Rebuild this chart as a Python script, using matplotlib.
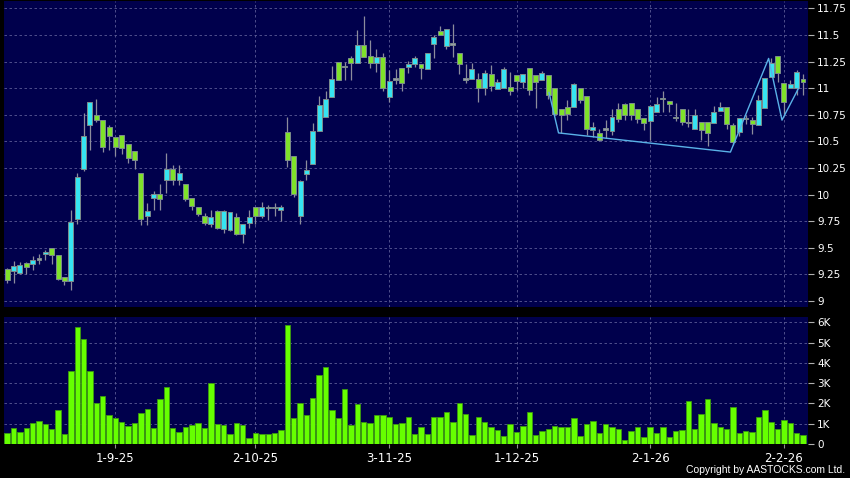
import matplotlib
matplotlib.use("Agg")
import matplotlib.pyplot as plt
import numpy as np

# daily OHLC (bar index 0..125)
opens = [9.30, 9.28, 9.26, 9.36, 9.35, 9.39, 9.44, 9.50, 9.43, 9.23,
         9.19, 9.77, 10.24, 10.65, 10.75, 10.70, 10.64, 10.54, 10.56, 10.48,
         10.41, 10.20, 9.80, 9.97, 10.01, 10.14, 10.24, 10.14, 10.10, 9.97,
         9.88, 9.80, 9.72, 9.85, 9.68, 9.67, 9.79, 9.63, 9.73, 9.88,
         9.80, 9.87, 9.87, 9.86, 10.59, 10.36, 9.80, 10.19, 10.29, 10.60,
         10.73, 10.92, 11.25, 11.20, 11.28, 11.24, 11.41, 11.30, 11.24, 11.29,
         10.92, 11.08, 11.19, 11.20, 11.23, 11.23, 11.18, 11.42, 11.54, 11.40,
         11.41, 11.33, 11.08, 11.09, 11.09, 11.00, 11.13, 10.99, 11.00, 11.01,
         11.12, 11.06, 11.19, 11.12, 11.08, 11.12, 11.00, 10.80, 10.82, 10.82,
         11.00, 10.93, 10.61, 10.58, 10.61, 10.60, 10.80, 10.85, 10.86, 10.80,
         10.72, 10.69, 10.78, 10.90, 10.88, 10.72, 10.80, 10.67, 10.62, 10.68,
         10.68, 10.67, 10.79, 10.82, 10.65, 10.59, 10.71, 10.70, 10.65, 10.81,
         11.11, 11.30, 11.05, 11.00, 11.00, 11.09]
highs = [9.31, 9.38, 9.37, 9.37, 9.42, 9.44, 9.48, 9.50, 9.43, 9.23,
         9.86, 10.20, 10.77, 10.87, 10.90, 10.70, 10.65, 10.54, 10.56, 10.48,
         10.41, 10.20, 9.92, 10.03, 10.10, 10.39, 10.28, 10.28, 10.10, 9.97,
         9.88, 9.83, 9.86, 9.86, 9.86, 9.84, 9.83, 9.72, 9.86, 9.88,
         9.93, 9.90, 9.92, 9.90, 10.73, 10.36, 10.14, 10.33, 10.67, 10.93,
         10.97, 11.21, 11.25, 11.25, 11.30, 11.55, 11.68, 11.45, 11.37, 11.33,
         11.17, 11.18, 11.19, 11.26, 11.30, 11.23, 11.33, 11.50, 11.58, 11.56,
         11.60, 11.33, 11.23, 11.24, 11.14, 11.17, 11.22, 11.09, 11.20, 11.15,
         11.12, 11.13, 11.19, 11.12, 11.16, 11.12, 11.00, 10.80, 10.89, 11.05,
         11.00, 10.93, 10.68, 10.62, 10.70, 10.80, 10.86, 10.86, 10.86, 10.80,
         10.72, 10.84, 10.92, 10.97, 10.88, 10.86, 10.80, 10.80, 10.80, 10.68,
         10.68, 10.83, 10.87, 10.82, 10.67, 10.72, 10.75, 10.73, 10.94, 11.10,
         11.28, 11.30, 11.05, 11.08, 11.17, 11.13]
lows = [9.17, 9.17, 9.25, 9.25, 9.29, 9.35, 9.39, 9.35, 9.20, 9.15,
        9.10, 9.72, 10.22, 10.42, 10.68, 10.40, 10.42, 10.36, 10.38, 10.30,
        10.24, 9.71, 9.71, 9.86, 9.86, 10.02, 10.09, 10.09, 9.94, 9.86,
        9.80, 9.71, 9.70, 9.68, 9.64, 9.66, 9.62, 9.55, 9.69, 9.72,
        9.78, 9.76, 9.80, 9.75, 10.26, 9.98, 9.72, 10.14, 10.29, 10.60,
        10.73, 10.92, 11.08, 11.08, 11.08, 11.24, 11.29, 11.19, 11.15, 10.97,
        10.87, 11.04, 10.97, 11.14, 11.20, 11.09, 11.18, 11.28, 11.50, 11.37,
        11.29, 11.13, 11.05, 11.09, 10.87, 10.94, 10.97, 10.99, 11.00, 10.94,
        10.98, 11.00, 10.94, 10.81, 11.08, 10.90, 10.75, 10.58, 10.70, 10.82,
        10.86, 10.56, 10.54, 10.50, 10.53, 10.56, 10.68, 10.70, 10.70, 10.67,
        10.61, 10.51, 10.78, 10.78, 10.78, 10.69, 10.65, 10.64, 10.62, 10.51,
        10.46, 10.67, 10.79, 10.62, 10.47, 10.55, 10.66, 10.57, 10.65, 10.81,
        11.11, 11.06, 10.76, 11.00, 10.94, 10.94]
closes = [9.20, 9.33, 9.34, 9.32, 9.39, 9.39, 9.46, 9.43, 9.21, 9.19,
          9.74, 10.17, 10.55, 10.87, 10.70, 10.45, 10.55, 10.45, 10.44, 10.34,
          10.33, 9.77, 9.85, 10.01, 9.96, 10.24, 10.14, 10.20, 9.96, 9.89,
          9.82, 9.73, 9.79, 9.69, 9.85, 9.84, 9.63, 9.72, 9.79, 9.80,
          9.88, 9.87, 9.87, 9.88, 10.33, 10.01, 10.13, 10.23, 10.60, 10.84,
          10.90, 11.09, 11.08, 11.20, 11.24, 11.41, 11.29, 11.24, 11.29, 11.00,
          11.07, 11.08, 11.05, 11.23, 11.28, 11.19, 11.33, 11.48, 11.50, 11.56,
          11.41, 11.23, 11.08, 11.18, 11.00, 11.14, 11.02, 11.06, 11.18, 10.97,
          11.07, 11.13, 10.98, 11.06, 11.14, 10.94, 10.76, 10.75, 10.76, 11.04,
          10.89, 10.62, 10.64, 10.51, 10.61, 10.73, 10.71, 10.75, 10.75, 10.71,
          10.67, 10.83, 10.85, 10.90, 10.85, 10.72, 10.68, 10.67, 10.75, 10.61,
          10.58, 10.78, 10.82, 10.66, 10.49, 10.72, 10.71, 10.66, 10.89, 11.10,
          11.24, 11.14, 10.87, 11.04, 11.15, 11.06]

# volume in thousands
volumes = [0.56, 0.78, 0.60, 0.78, 1.06, 1.14, 0.99, 0.73, 1.70, 0.51,
           3.59, 5.75, 5.19, 3.59, 2.02, 2.38, 1.44, 1.29, 1.09, 0.88,
           1.06, 1.52, 1.74, 0.79, 2.23, 2.83, 0.79, 0.60, 0.86, 0.96,
           1.02, 0.78, 3.02, 1.01, 0.96, 0.50, 1.02, 0.93, 0.31, 0.56,
           0.50, 0.51, 0.55, 0.71, 5.87, 1.26, 2.03, 1.45, 2.25, 3.39,
           3.82, 1.70, 1.26, 2.71, 0.96, 1.95, 1.11, 1.04, 1.42, 1.45,
           1.34, 0.98, 1.02, 1.31, 0.51, 0.83, 0.50, 1.31, 1.34, 1.60,
           1.07, 2.03, 1.50, 0.46, 1.32, 1.11, 0.86, 0.71, 0.41, 1.01,
           0.61, 0.88, 1.59, 0.43, 0.66, 0.76, 0.91, 0.83, 0.86, 1.29,
           0.41, 1.01, 1.12, 0.56, 1.01, 0.86, 0.74, 0.21, 0.66, 0.83,
           0.35, 0.86, 0.53, 0.86, 0.36, 0.64, 0.71, 2.12, 0.73, 1.47,
           2.23, 1.02, 0.86, 0.76, 1.85, 0.55, 0.64, 0.60, 1.34, 1.69,
           1.11, 0.76, 1.19, 1.02, 0.56, 0.45]

date_pos = [17, 39, 60, 80, 101, 122]
date_labels = ["1-9-25", "2-10-25", "3-11-25", "1-12-25", "2-1-26", "2-2-26"]

price_ticks = [9, 9.25, 9.5, 9.75, 10, 10.25, 10.5, 10.75, 11, 11.25, 11.5, 11.75]
price_labels = ["9", "9.25", "9.5", "9.75", "10", "10.25", "10.5", "10.75",
                "11", "11.25", "11.5", "11.75"]
vol_ticks = [0, 1, 2, 3, 4, 5, 6]
vol_labels = ["0", "1K", "2K", "3K", "4K", "5K", "6K"]

# hand drawn pattern line (bar index, price)
line_x = [85.1, 86.6, 113.6, 119.6, 121.7, 124.3]
line_y = [10.96, 10.58, 10.40, 11.28, 10.70, 11.00]

BG = "#00004c"
UP = "#36e4f2"
DOWN = "#7fe22a"
DOJI = "#9a9aa8"
GRID = "#5c5c96"

fig = plt.figure(figsize=(8.5, 4.78), dpi=100, facecolor="black")
ax = fig.add_axes([0.0047, 0.3584, 0.946, 0.6396])
axv = fig.add_axes([0.0047, 0.0711, 0.946, 0.2663])

x = np.arange(len(closes))
o = np.array(opens)
c = np.array(closes)

for a in (ax, axv):
    a.set_facecolor(BG)
    for s in a.spines.values():
        s.set_visible(False)
    a.set_xlim(-0.5, 125.8)
    a.yaxis.tick_right()
    a.tick_params(axis="y", colors="#b0b0b0", labelcolor="white", length=4,
                  width=0.8, pad=2.5, labelsize=7.5)
    a.set_axisbelow(True)
    a.grid(True, color=GRID, linestyle=(0, (3, 3)), linewidth=0.6)
    a.set_xticks(date_pos)

# candles
ax.vlines(x, lows, highs, color="#8c8c9c", linewidth=0.9, zorder=2)
cols = [UP if cc > oo else (DOWN if cc < oo else DOJI) for oo, cc in zip(o, c)]
body = np.maximum(np.abs(c - o), 0.012)
ax.bar(x, body, bottom=np.minimum(o, c), width=0.78, color=cols,
       edgecolor="#7c8c8c", linewidth=0.7, zorder=3)
ax.plot(line_x, line_y, color="#5ab2e8", linewidth=1.0, zorder=4)

ax.set_ylim(8.947, 11.82)
ax.set_yticks(price_ticks)
ax.set_yticklabels(price_labels)
ax.tick_params(axis="x", length=0, labelbottom=False)

# volume
axv.bar(x, volumes, width=0.85, color="#66ff00", edgecolor="#3c9a10",
        linewidth=0.6, zorder=3)
axv.set_ylim(0, 6.28)
axv.set_yticks(vol_ticks)
axv.set_yticklabels(vol_labels)
axv.set_xticklabels(date_labels)
axv.tick_params(axis="x", colors="#909090", labelcolor="white", length=3,
                width=0.8, pad=3, labelsize=8.5)

fig.text(0.994, 0.006, "Copyright by AASTOCKS.com Ltd.", color="white",
         fontsize=7.5, family="Liberation Sans", ha="right", va="bottom")

fig.savefig("out.png", dpi=100, facecolor="black")
